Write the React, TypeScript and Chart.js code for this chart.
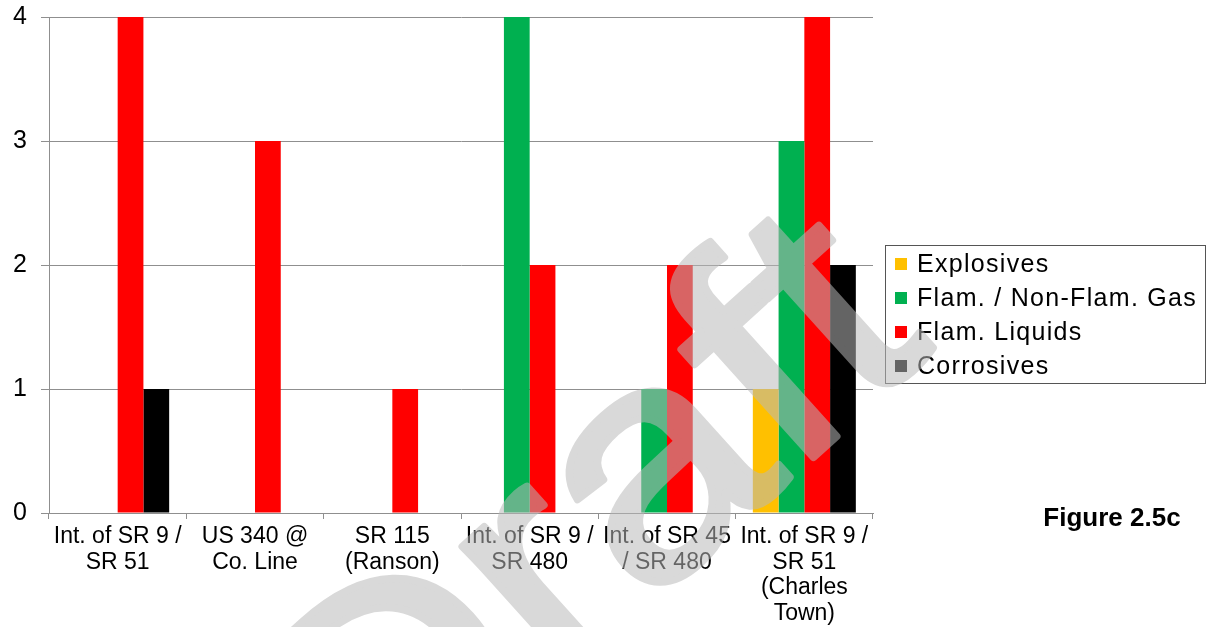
import React, { useEffect, useRef } from "react";
import { Chart, registerables } from "chart.js";

Chart.register(...registerables);

// ---- Data ----
const categories: string[][] = [
  ["Int. of SR 9 /", "SR 51"],
  ["US 340 @", "Co. Line"],
  ["SR 115", "(Ranson)"],
  ["Int. of SR 9 /", "SR 480"],
  ["Int. of SR 45", "/ SR 480"],
  ["Int. of SR 9 /", "SR 51", "(Charles", "Town)"],
];
const seriesNames = ["Explosives", "Flam. / Non-Flam. Gas", "Flam. Liquids", "Corrosives"];
const explosives = [0, 0, 0, 0, 0, 1];
const flamGas = [0, 0, 0, 4, 1, 3];
const flamLiquids = [4, 3, 1, 2, 2, 4];
const corrosives = [1, 0, 0, 0, 0, 2];
const seriesColors = ["#FFC000", "#00B050", "#FF0000", "#000000"];
const yMin = 0;
const yMax = 4;
const yStep = 1;
const figureLabel = "Figure 2.5c";
const watermarkText = "Draft";

const FONT = "'Liberation Sans', Arial, sans-serif";
const GRID = "#8f8f8f";

const overlayPlugin = {
  id: "overlay",
  afterDraw(chart: any) {
    const ctx = chart.ctx as CanvasRenderingContext2D;
    // Legend box
    ctx.save();
    const bx = 885, by = 245, bw = 320, bh = 138;
    ctx.strokeStyle = "#555555";
    ctx.lineWidth = 1;
    ctx.strokeRect(bx + 0.5, by + 0.5, bw, bh);
    const rows = [264, 298, 332, 366];
    chart.data.datasets.forEach((ds: any, i: number) => {
      const cy = rows[i];
      ctx.fillStyle = ds.backgroundColor;
      ctx.fillRect(895, cy - 6, 12, 12);
      ctx.fillStyle = "#000";
      ctx.font = `25px ${FONT}`;
      (ctx as any).letterSpacing = "1.3px";
      ctx.textBaseline = "middle";
      ctx.textAlign = "left";
      ctx.fillText(ds.label, 917, cy + 1);
    });
    (ctx as any).letterSpacing = "0px";
    // Figure label
    ctx.fillStyle = "#000";
    ctx.font = `bold 26px ${FONT}`;
    ctx.textAlign = "center";
    ctx.textBaseline = "alphabetic";
    ctx.fillText(figureLabel, 1112, 526);
    ctx.restore();

    // Watermark (rotated "Draft"), drawn opaque offscreen then blended
    const off = document.createElement("canvas");
    off.width = chart.width;
    off.height = chart.height;
    const o = off.getContext("2d") as CanvasRenderingContext2D;
    o.translate(662, 482);
    o.rotate((-42 * Math.PI) / 180);
    o.scale(0.88, 0.8);
    o.font = `400px ${FONT}`;
    o.fillStyle = "rgb(185,185,185)";
    o.strokeStyle = "rgb(185,185,185)";
    o.lineWidth = 9;
    o.lineJoin = "round";
    o.textAlign = "left";
    o.textBaseline = "alphabetic";
    o.fillText(watermarkText, -533, 104);
    o.strokeText(watermarkText, -533, 104);
    ctx.save();
    ctx.globalAlpha = 0.54;
    ctx.drawImage(off, 0, 0);
    ctx.restore();
  },
};

export default function App() {
  const ref = useRef<HTMLCanvasElement | null>(null);
  useEffect(() => {
    if (!ref.current) return;
    const seriesData = [explosives, flamGas, flamLiquids, corrosives];
    const chart = new Chart(ref.current, {
      type: "bar",
      data: {
        labels: categories,
        datasets: seriesNames.map((name, i) => ({
          label: name,
          data: seriesData[i],
          backgroundColor: seriesColors[i],
          borderWidth: 0,
          categoryPercentage: 0.75,
          barPercentage: 1,
        })),
      },
      options: {
        animation: false,
        responsive: false,
        maintainAspectRatio: false,
        layout: { padding: { left: 0, top: 17, right: 337, bottom: 0 } },
        plugins: {
          legend: { display: false },
          tooltip: { enabled: false },
          title: { display: false },
        },
        scales: {
          x: {
            ticks: {
              color: "#000",
              font: { family: FONT, size: 23, lineHeight: 25.5 / 23 },
              padding: 5,
              maxRotation: 0,
              autoSkip: false,
            },
            grid: {
              drawOnChartArea: false,
              drawTicks: true,
              tickLength: 6,
              color: GRID,
              offset: true,
            },
            border: { display: true, color: GRID },
            afterFit: (s: any) => {
              s.height = 114;
              s.paddingLeft = 0;
              s.paddingRight = 0;
            },
          },
          y: {
            min: yMin,
            max: yMax,
            ticks: {
              stepSize: yStep,
              color: "#000",
              font: { family: FONT, size: 25 },
              padding: 14,
            },
            grid: { color: GRID, tickLength: 8, drawTicks: true },
            border: { display: true, color: GRID },
            afterFit: (s: any) => {
              s.width = 49;
              s.paddingTop = 0;
              s.paddingBottom = 0;
            },
          },
        },
      },
      plugins: [overlayPlugin],
    });
    return () => chart.destroy();
  }, []);
  return (
    <div style={{ position: "absolute", left: 0, top: 0, width: 1210, height: 627, background: "#fff" }}>
      <canvas ref={ref} width={1210} height={627} style={{ display: "block" }} />
    </div>
  );
}
